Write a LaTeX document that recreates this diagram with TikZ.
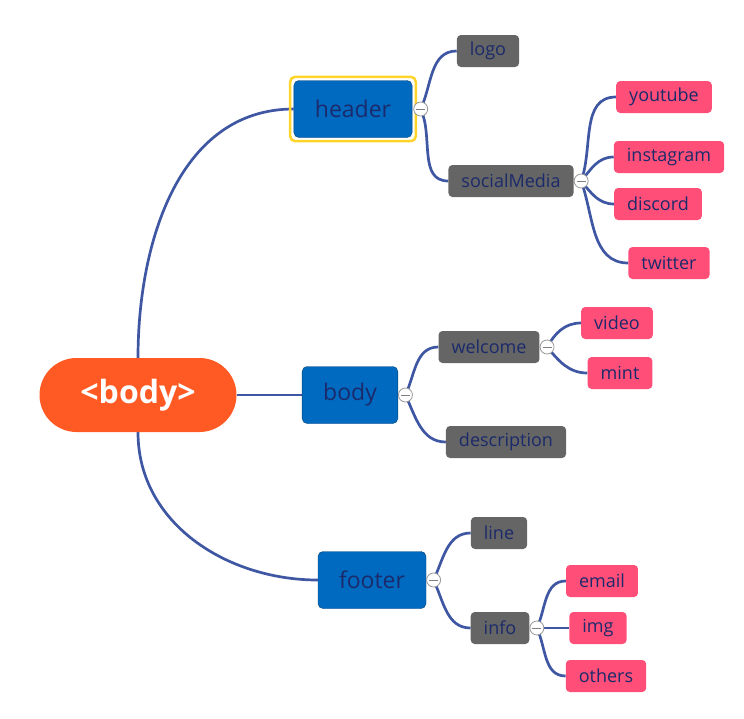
\documentclass[tikz,border=0pt]{standalone}
\usepackage{fontspec}
\setmainfont{Open Sans}
\usetikzlibrary{positioning,fit,backgrounds}
\definecolor{rootorange}{HTML}{FF5A24}
\definecolor{topicblue}{HTML}{006AC1}
\definecolor{itemgray}{HTML}{656565}
\definecolor{leafpink}{HTML}{FF4F79}
\definecolor{textnavy}{HTML}{1B2A6A}
\definecolor{branchblue}{HTML}{3F57A3}
\definecolor{selyellow}{HTML}{FFD42A}
\tikzset{
  rootbox/.style={rectangle, rounded corners=37pt, fill=rootorange, text=white,
    font=\bfseries\fontsize{32}{36}\selectfont, minimum width=197pt, minimum height=74pt},
  topic/.style={rectangle, rounded corners=5pt, fill=topicblue, draw=topicblue!60!black,
    text=textnavy, font=\fontsize{23}{27}\selectfont, minimum height=57pt, inner xsep=21pt},
  item/.style={rectangle, rounded corners=4pt, fill=itemgray, text=textnavy,
    font=\fontsize{18}{21}\selectfont, minimum height=32pt, inner xsep=13pt},
  leaf/.style={item, fill=leafpink},
  selframe/.style={draw=selyellow, line width=2.5pt, rounded corners=5pt, inner sep=3.5pt},
  toggle/.style={circle, draw=gray!80, fill=white, line width=0.8pt, minimum size=14pt, inner sep=0pt,
    path picture={\draw[gray, line width=1pt] ([xshift=-4.5pt]path picture bounding box.center)
      -- ([xshift=4.5pt]path picture bounding box.center);}},
  branch/.style={draw=branchblue, line width=2.7pt},
}
\begin{document}
\begin{tikzpicture}[x=1pt, y=-1pt]
\useasboundingbox (0,0) rectangle (744,718);
% main topic
\node[rootbox] (root) at (138,395) {<body>};
% header
\node[topic] (header) at (353,109) {header};
\node[selframe, fit=(header)] (headframe) {};
\node[toggle, right=1pt of header] (tghead) {};
\node[item] (logo) at (488,51) {logo};
\node[item] (social) at (511,181) {socialMedia};
\node[toggle, right=0pt of social] (tgsocial) {};
\node[leaf] (youtube) at (664,97) {youtube};
\node[leaf] (instagram) at (669,157) {instagram};
\node[leaf] (discord) at (658,204) {discord};
\node[leaf] (twitter) at (669,263) {twitter};
% body
\node[topic] (body) at (350,395) {body};
\node[toggle, right=0pt of body] (tgbody) {};
\node[item] (welcome) at (489,347) {welcome};
\node[toggle, right=0pt of welcome] (tgwelcome) {};
\node[leaf] (video) at (617,323) {video};
\node[leaf] (mint) at (620,373) {mint};
\node[item] (descr) at (506,442) {description};
% footer
\node[topic] (footer) at (372,580) {footer};
\node[toggle, right=0pt of footer] (tgfooter) {};
\node[item] (line) at (499,533) {line};
\node[item] (info) at (500,628) {info};
\node[toggle, right=0pt of info] (tginfo) {};
\node[leaf] (email) at (602,581) {email};
\node[leaf] (img) at (598,628) {img};
\node[leaf] (others) at (606,676) {others};
% branches
\begin{scope}[on background layer]
\draw[branch] (root.north) to[out=90, in=180] (header.west);
\draw[branch] (root.east) -- (body.west);
\draw[branch] (root.south) to[out=-90, in=180] (footer.west);
\draw[branch] (tghead.center) to[out=65, in=180] (logo.west);
\draw[branch] (tghead.center) to[out=-65, in=180] (social.west);
\draw[branch] (tgsocial.center) to[out=70, in=180] (youtube.west);
\draw[branch] (tgsocial.center) to[out=50, in=180] (instagram.west);
\draw[branch] (tgsocial.center) to[out=-50, in=180] (discord.west);
\draw[branch] (tgsocial.center) to[out=-70, in=180] (twitter.west);
\draw[branch] (tgbody.center) to[out=65, in=180] (welcome.west);
\draw[branch] (tgbody.center) to[out=-65, in=180] (descr.west);
\draw[branch] (tgwelcome.center) to[out=60, in=180] (video.west);
\draw[branch] (tgwelcome.center) to[out=-50, in=180] (mint.west);
\draw[branch] (tgfooter.center) to[out=65, in=180] (line.west);
\draw[branch] (tgfooter.center) to[out=-65, in=180] (info.west);
\draw[branch] (tginfo.center) to[out=65, in=180] (email.west);
\draw[branch] (tginfo.center) -- (img.west);
\draw[branch] (tginfo.center) to[out=-65, in=180] (others.west);
\end{scope}
\end{tikzpicture}
\end{document}
